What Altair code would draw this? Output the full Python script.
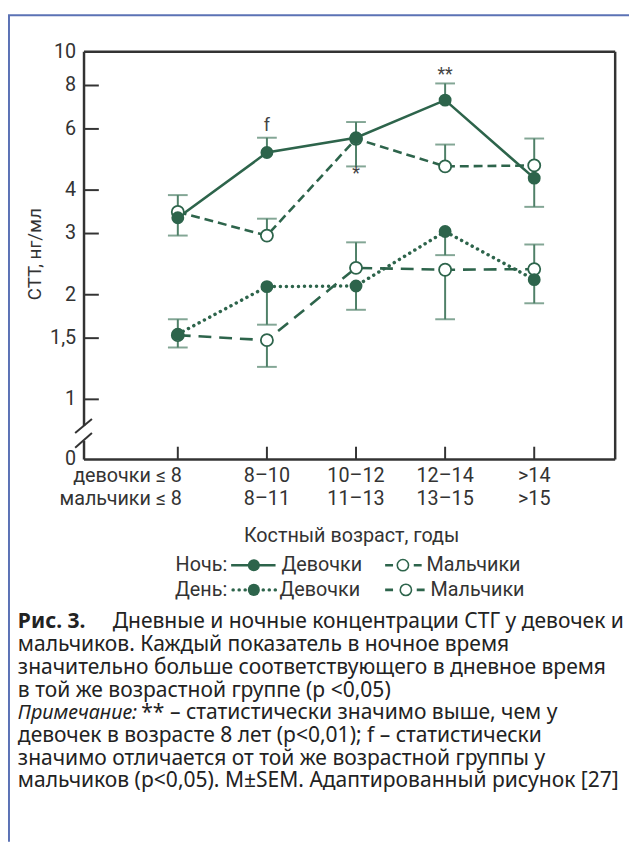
import altair as alt
import pandas as pd

# ---------------- data ----------------
groups = ["≤8", "8–10", "10–12", "12–14", ">14"]
pos = [0, 1, 2, 3, 4]
labels_girls = ["девочки ≤ 8", "8–10", "10–12", "12–14", ">14"]
labels_boys = ["мальчики ≤ 8", "8–11", "11–13", "13–15", ">15"]

night_girls = [3.33, 5.13, 5.66, 7.26, 4.33]
night_girls_hi = [3.87, 5.66, 6.28, 8.11, None]
night_girls_lo = [2.96, None, 4.68, None, 3.58]

night_boys = [3.46, 2.96, 5.62, 4.68, 4.71]
night_boys_hi = [None, 3.31, None, 5.41, 5.63]
night_boys_lo = [None, None, None, None, None]

day_girls = [1.54, 2.11, 2.12, 3.04, 2.21]
day_girls_hi = [1.70, None, None, None, None]
day_girls_lo = [1.41, 1.64, 1.81, 2.60, 1.89]

day_boys = [1.53, 1.48, 2.39, 2.36, 2.37]
day_boys_hi = [None, None, 2.83, None, 2.79]
day_boys_lo = [None, 1.24, None, 1.70, None]

ann_text = ["f", "*", "**"]
ann_pos = [1, 2, 3]
ann_val = [6.12, 4.45, 8.55]

y_ticks = [1, 1.5, 2, 3, 4, 6, 8, 10]
y_tick_labels = ["1", "1,5", "2", "3", "4", "6", "8", "10"]

caption_lines = [
    "мальчиков. Каждый показатель в ночное время",
    "значительно больше соответствующего в дневное время",
    "в той же возрастной группе (p <0,05)",
]
caption_lines2 = [
    "девочек в возрасте 8 лет (p<0,01); f – статистически",
    "значимо отличается от той же возрастной группы у",
    "мальчиков (p<0,05). M±SEM. Адаптированный рисунок [27]",
]

# ---------------- styling ----------------
G = "#2d644b"
E = "#4f8068"
AX = "#333333"
FONT = "Roboto"
FS = 20
CFONT = "Noto Sans"
W, H = 538, 413

xs = alt.Scale(domain=[-1.0526, 4.9086])
ys = alt.Scale(type="log", domain=[0.671, 10], nice=False)


def X(f="pos"):
    return alt.X(f"{f}:Q", scale=xs, axis=None)


def Y(f="v"):
    return alt.Y(f"{f}:Q", scale=ys, axis=None)


series = {
    "night_girls": (night_girls, night_girls_lo, night_girls_hi),
    "night_boys": (night_boys, night_boys_lo, night_boys_hi),
    "day_girls": (day_girls, day_girls_lo, day_girls_hi),
    "day_boys": (day_boys, day_boys_lo, day_boys_hi),
}

rows, err, caps = [], [], []
for name, (m, lo, hi) in series.items():
    for i in range(5):
        rows.append({"s": name, "pos": pos[i], "g": groups[i], "v": m[i]})
        a = lo[i] if lo[i] is not None else m[i]
        b = hi[i] if hi[i] is not None else m[i]
        if a != b:
            err.append({"s": name, "pos": pos[i], "lo": a, "hi": b})
        if lo[i] is not None:
            caps.append({"s": name, "pos": pos[i], "c": lo[i]})
        if hi[i] is not None:
            caps.append({"s": name, "pos": pos[i], "c": hi[i]})

df = pd.DataFrame(rows)
df_err = pd.DataFrame(err)
df_caps = pd.DataFrame(caps)

layers = []

# error bars
layers.append(alt.Chart(df_err).mark_rule(color=E, strokeWidth=2).encode(
    x=X(), y=Y("lo"), y2="hi:Q"))
layers.append(alt.Chart(df_caps).mark_tick(color=E, orient="horizontal", size=20, thickness=2).encode(
    x=X(), y=Y("c")))

# lines
dash = {
    "night_girls": None,
    "night_boys": [9, 5],
    "day_girls": [0.1, 6],
    "day_boys": [13, 8],
}
for name in ["day_boys", "day_girls", "night_boys", "night_girls"]:
    kw = dict(color=G, strokeWidth=2.6)
    if dash[name] is not None:
        kw["strokeDash"] = dash[name]
    if name == "day_girls":
        kw["strokeCap"] = "round"
        kw["strokeWidth"] = 3.5
    layers.append(alt.Chart(df[df.s == name]).mark_line(**kw).encode(x=X(), y=Y()))

# points: open first, filled on top
for name in ["day_boys", "night_boys"]:
    layers.append(alt.Chart(df[df.s == name]).mark_circle(
        size=150, fill="white", stroke=G, strokeWidth=1.8, opacity=1).encode(x=X(), y=Y()))
for name in ["day_girls", "night_girls"]:
    layers.append(alt.Chart(df[df.s == name]).mark_circle(
        size=170, color=G, opacity=1).encode(x=X(), y=Y()))

# annotations
df_ann = pd.DataFrame({"pos": ann_pos, "v": ann_val, "t": ann_text})
layers.append(alt.Chart(df_ann).mark_text(font=FONT, fontSize=18, color="#444", baseline="middle").encode(
    x=X(), y=Y(), text="t:N"))

# y tick labels and inward ticks
df_yl = pd.DataFrame({"v": y_ticks, "t": y_tick_labels})
layers.append(alt.Chart(df_yl).mark_text(font=FONT, fontSize=FS, color=AX, align="right",
                                         baseline="middle").encode(
    y=Y(), x=alt.value(-8), text="t:N"))
df_yt = pd.DataFrame({"v": [t for t in y_ticks if t < 10]})
layers.append(alt.Chart(df_yt).mark_rule(color=AX, strokeWidth=2).encode(
    y=Y(), x=alt.value(0), x2=alt.value(15)))
df_xt = pd.DataFrame({"pos": pos})
layers.append(alt.Chart(df_xt).mark_rule(color=AX, strokeWidth=2).encode(
    x=X(), y=alt.value(H), y2=alt.value(H - 13)))

# x labels
df_xl = pd.DataFrame({"pos": pos, "a": labels_girls, "b": labels_boys})
for field, yy in [("a", 430), ("b", 453)]:
    layers.append(alt.Chart(df_xl[df_xl.pos == 0]).mark_text(
        font=FONT, fontSize=FS, color=AX, align="right", baseline="middle", dx=4).encode(
        x=X(), y=alt.value(yy), text=f"{field}:N"))
    layers.append(alt.Chart(df_xl[df_xl.pos > 0]).mark_text(
        font=FONT, fontSize=FS, color=AX, align="center", baseline="middle").encode(
        x=X(), y=alt.value(yy), text=f"{field}:N"))


def txt(s, x, y, size=FS, font=FONT, color=AX, align="left", **kw):
    return alt.Chart(alt.Data(values=[{"t": s}])).mark_text(
        font=font, fontSize=size, color=color, align=align, baseline="middle", **kw).encode(
        x=alt.value(x), y=alt.value(y), text="t:N")


def seg(x1, y1, x2, y2, color=AX, width=2.5, **kw):
    return alt.Chart(alt.Data(values=[{}])).mark_rule(color=color, strokeWidth=width, **kw).encode(
        x=alt.value(x1), y=alt.value(y1), x2=alt.value(x2), y2=alt.value(y2))


# frame with axis break
layers += [
    seg(0, 0, W, 0), seg(W, 0, W, H), seg(0, H, W, H),
    seg(0, 0, 0, 379), seg(0, 394, 0, H),
    seg(-9, 386, 8, 372, width=2), seg(-9, 401, 8, 386, width=2),
]
layers.append(txt("0", -8, H, align="right"))
layers.append(txt("СТТ, нг/мл", -50, 205, size=19, align="center", angle=270))
layers.append(txt("Костный возраст, годы", 271, 490, align="center"))

# legend
LY1, LY2 = 520, 545
layers += [
    txt("Ночь:", 145, LY1, align="right"),
    seg(149, LY1, 194, LY1, color=G, width=2.6),
    txt("Девочки", 200, LY1),
    seg(305, LY1, 342, LY1, color=G, width=2.6, strokeDash=[8, 21]),
    txt("Мальчики", 347, LY1),
    txt("День:", 145, LY2, align="right"),
    seg(151, LY2, 194, LY2, color=G, width=3.5, strokeDash=[0.1, 6], strokeCap="round"),
    txt("Девочки", 198, LY2),
    seg(305, LY2, 345, LY2, color=G, width=2.6, strokeDash=[8, 24]),
    txt("Мальчики", 351, LY2),
]
df_leg = pd.DataFrame({"x": [172, 323, 172, 326], "y": [LY1, LY1, LY2, LY2],
                       "f": ["g", "b", "g", "b"]})
layers.append(alt.Chart(df_leg[df_leg.f == "b"]).mark_circle(
    size=130, fill="white", stroke=G, strokeWidth=1.6, opacity=1).encode(
    x=alt.X("x:Q", scale=None), y=alt.Y("y:Q", scale=None)))
layers.append(alt.Chart(df_leg[df_leg.f == "g"]).mark_circle(
    size=150, color=G, opacity=1).encode(
    x=alt.X("x:Q", scale=None), y=alt.Y("y:Q", scale=None)))

# caption
CX = -67
CC = "#222222"
CS = 21.3
cy = 578
step = 23
layers.append(txt("Рис. 3.", CX, cy, size=CS, font=CFONT, color=CC, fontWeight="bold"))
layers.append(txt("Дневные и ночные концентрации СТГ у девочек и", 29, cy, size=CS, font=CFONT, color=CC))
for i, line in enumerate(caption_lines):
    layers.append(txt(line, CX, cy + step * (i + 1), size=CS, font=CFONT, color=CC))
cy2 = cy + step * 4
layers.append(txt("Примечание:", CX, cy2, size=20, font=CFONT, color=CC, fontStyle="italic"))
layers.append(txt("** – статистически значимо выше, чем у", 58, cy2, size=CS, font=CFONT, color=CC))
for i, line in enumerate(caption_lines2):
    layers.append(txt(line, CX, cy2 + step * (i + 1), size=CS, font=CFONT, color=CC))

# page border (blue)
layers.append(seg(-77, -37, 560, -37, color="#5b72b5", width=2))
layers.append(seg(-76, -37, -76, 800, color="#5b72b5", width=2))

chart = alt.layer(*layers).properties(
    width=W, height=H,
    autosize=alt.AutoSizeParams(type="none"),
    padding={"left": 77, "top": 39, "right": 14, "bottom": 384},
).configure_view(stroke=None)

chart.save("out.html", embed_options={"renderer": "svg", "actions": False})
